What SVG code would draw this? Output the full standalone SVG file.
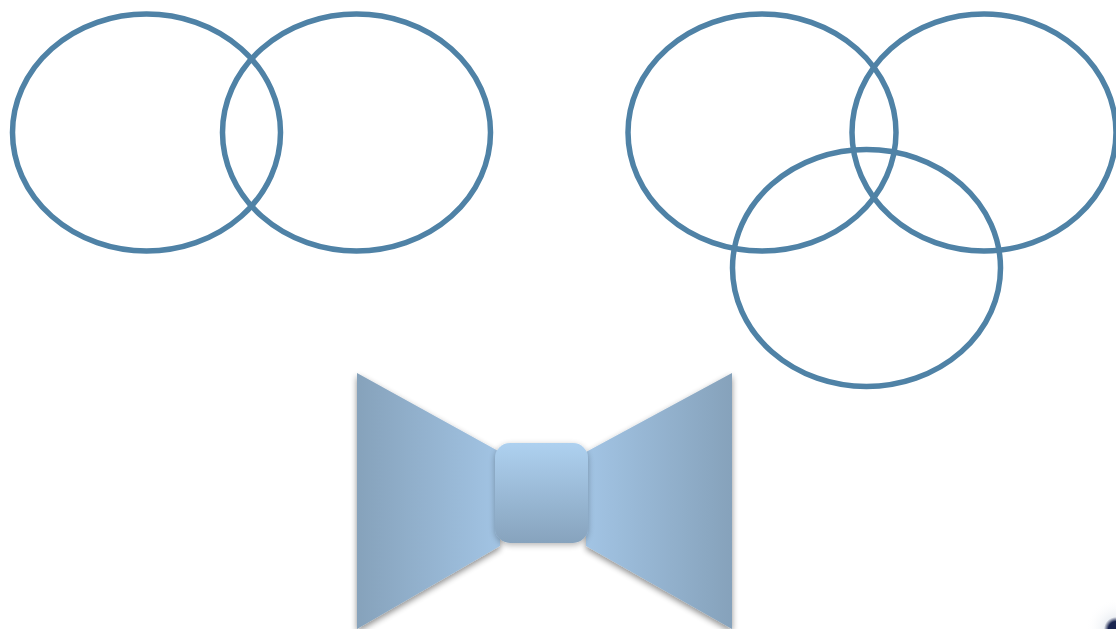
<svg xmlns="http://www.w3.org/2000/svg" width="1116" height="629" viewBox="0 0 1116 629">
<style>
.venn{fill:none;stroke:#4f82a6;stroke-width:5.5}
</style>
<defs>
<linearGradient id="wingL" x1="0" y1="0" x2="1" y2="0">
<stop offset="0" stop-color="#86a2bb"/>
<stop offset="1" stop-color="#a2c4e4"/>
</linearGradient>
<linearGradient id="wingR" x1="1" y1="0" x2="0" y2="0">
<stop offset="0" stop-color="#86a2bb"/>
<stop offset="1" stop-color="#a2c4e4"/>
</linearGradient>
<linearGradient id="knot" x1="0" y1="0" x2="0" y2="1">
<stop offset="0" stop-color="#aed1f0"/>
<stop offset="1" stop-color="#87a3bd"/>
</linearGradient>
<filter id="shadow" x="-20%" y="-20%" width="140%" height="140%">
<feGaussianBlur in="SourceAlpha" stdDeviation="3"/>
<feOffset dx="0" dy="3" result="b"/>
<feComponentTransfer><feFuncA type="linear" slope="0.45"/></feComponentTransfer>
<feMerge><feMergeNode/><feMergeNode in="SourceGraphic"/></feMerge>
</filter>
<filter id="knotShadow" x="-20%" y="-20%" width="140%" height="140%">
<feGaussianBlur in="SourceAlpha" stdDeviation="3"/>
<feOffset dx="0" dy="2"/>
<feComponentTransfer><feFuncA type="linear" slope="0.3"/></feComponentTransfer>
<feMerge><feMergeNode/><feMergeNode in="SourceGraphic"/></feMerge>
</filter>
<radialGradient id="corner" cx="1" cy="1" r="1">
<stop offset="0" stop-color="#1a2550"/>
<stop offset="0.25" stop-color="#1a2550"/>
<stop offset="0.4" stop-color="#eef1f5"/>
<stop offset="1" stop-color="#ffffff" stop-opacity="0"/>
</radialGradient>
</defs>
<rect width="1116" height="629" fill="#ffffff"/>
<g id="venn2">
<ellipse class="venn" cx="146.5" cy="132.5" rx="134" ry="118.5"/>
<ellipse class="venn" cx="356.5" cy="132.5" rx="134" ry="118.5"/>
</g>
<g id="venn3">
<ellipse class="venn" cx="762" cy="132.5" rx="134" ry="118.5"/>
<ellipse class="venn" cx="984" cy="132.5" rx="132" ry="118.5"/>
<ellipse class="venn" cx="866.5" cy="268" rx="134" ry="118.5"/>
</g>
<g id="bowtie">
<g filter="url(#shadow)">
<polygon points="357,373 500,452 500,546 357,629" fill="url(#wingL)"/>
<polygon points="732,373 586,452 586,546 732,629" fill="url(#wingR)"/>
</g>
<rect x="495" y="443" width="93" height="100" rx="15" fill="url(#knot)" filter="url(#knotShadow)"/>
</g>
<rect x="1086" y="599" width="30" height="30" fill="url(#corner)"/>
</svg>
